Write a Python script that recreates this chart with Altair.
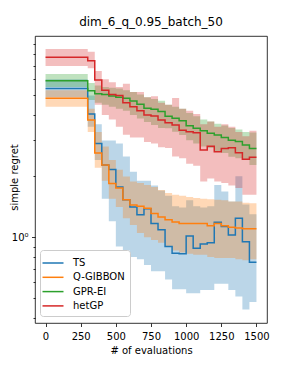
import altair as alt
import pandas as pd

evals = [0, 50, 100, 150, 200, 250, 300, 350, 400, 450, 500, 550, 600, 650, 700, 750,
         800, 850, 900, 950, 1000, 1050, 1100, 1150, 1200, 1250, 1300, 1350, 1400, 1450, 1500]

algos = ["TS", "Q-GIBBON", "GPR-EI", "hetGP"]
colors = ["#1f77b4", "#ff7f0e", "#2ca02c", "#d62728"]

ts_mean = [5.4, 5.4, 5.4, 5.4, 5.4, 5.4, 4.05, 2.9, 2.27, 2.16, 1.77, 1.53, 1.41, 1.29, 1.38, 1.17,
           1.09, 0.90, 0.834, 0.83, 1.015, 0.883, 0.927, 0.94, 1.185, 1.13, 1.026, 1.24, 0.95, 0.753, 0.753]
ts_hi = [6.0, 6.0, 6.0, 6.0, 6.0, 6.0, 5.0, 3.6, 3.0, 3.0, 2.9, 2.5, 2.1, 1.9, 1.9, 1.8,
         1.7, 1.6, 1.42, 1.4, 1.52, 1.42, 1.4, 1.42, 1.81, 1.68, 1.5, 2.0, 1.45, 1.3, 1.3]
ts_lo = [4.9, 4.9, 4.9, 4.9, 4.9, 4.9, 3.5, 2.4, 1.55, 1.2, 0.9, 0.86, 0.8, 0.78, 0.73, 0.68,
         0.68, 0.62, 0.555, 0.555, 0.53, 0.53, 0.55, 0.55, 0.59, 0.59, 0.55, 0.51, 0.44, 0.48, 0.48]

qg_mean = [4.84, 4.84, 4.84, 4.84, 4.84, 4.84, 3.78, 2.6, 2.27, 1.84, 1.75, 1.53, 1.44, 1.42, 1.39, 1.31,
           1.26, 1.22, 1.19, 1.17, 1.17, 1.17, 1.17, 1.14, 1.17, 1.14, 1.12, 1.11, 1.10, 1.10, 1.10]
qg_hi = [5.3, 5.3, 5.3, 5.3, 5.3, 5.3, 4.3, 3.3, 2.8, 2.4, 2.15, 1.99, 1.88, 1.85, 1.81, 1.77,
         1.71, 1.65, 1.62, 1.6, 1.58, 1.56, 1.55, 1.54, 1.53, 1.52, 1.5, 1.5, 1.48, 1.47, 1.47]
qg_lo = [4.4, 4.4, 4.4, 4.4, 4.4, 4.4, 3.3, 2.2, 1.9, 1.55, 1.41, 1.24, 1.15, 1.05, 1.0, 0.97,
         0.94, 0.9, 0.86, 0.84, 0.83, 0.82, 0.82, 0.80, 0.79, 0.79, 0.79, 0.78, 0.77, 0.78, 0.78]

ei_mean = [5.9, 5.9, 5.9, 5.9, 5.9, 5.9, 5.27, 5.1, 5.05, 4.96, 4.9, 4.84, 4.69, 4.52, 4.32, 4.27,
           4.16, 3.95, 3.86, 3.75, 3.54, 3.44, 3.35, 3.25, 3.19, 3.10, 3.01, 2.96, 2.85, 2.74, 2.74]
ei_hi = [6.37, 6.37, 6.37, 6.37, 6.37, 6.37, 5.75, 5.6, 5.5, 5.45, 5.4, 5.3, 5.2, 5.05, 4.9, 4.8,
         4.7, 4.5, 4.4, 4.3, 4.1, 3.95, 3.8, 3.72, 3.62, 3.55, 3.45, 3.4, 3.3, 3.28, 3.28]
ei_lo = [5.5, 5.5, 5.5, 5.5, 5.5, 5.5, 4.75, 4.6, 4.5, 4.4, 4.3, 4.2, 4.0, 3.85, 3.7, 3.57,
         3.45, 3.44, 3.31, 3.19, 3.01, 2.9, 2.8, 2.75, 2.64, 2.6, 2.49, 2.45, 2.4, 2.27, 2.27]

het_mean = [7.7, 7.7, 7.7, 7.7, 7.7, 7.7, 7.4, 5.95, 5.3, 5.05, 5.0, 4.6, 4.4, 4.2, 4.0, 3.96,
            3.78, 3.67, 3.57, 3.37, 3.31, 3.27, 2.69, 2.81, 2.64, 2.74, 2.76, 2.61, 2.42, 2.48, 2.48]
het_hi = [8.46, 8.46, 8.46, 8.46, 8.46, 8.46, 8.2, 6.6, 6.0, 5.8, 5.5, 5.7, 5.2, 5.2, 4.9, 4.95,
          4.6, 4.5, 4.85, 4.3, 4.2, 4.05, 3.6, 3.72, 3.5, 3.6, 3.5, 3.3, 3.15, 3.35, 3.35]
het_lo = [6.97, 6.97, 6.97, 6.97, 6.97, 6.97, 6.8, 4.5, 4.0, 3.8, 3.5, 3.2, 3.1, 3.1, 2.95, 2.9,
          2.78, 2.75, 2.5, 2.45, 2.3, 2.25, 1.88, 1.95, 1.88, 1.85, 1.8, 1.75, 1.62, 1.62, 1.62]

x_ticks = [0, 250, 500, 750, 1000, 1250, 1500]
y_ticks = [0.4, 0.5, 0.6, 0.7, 0.8, 0.9, 1, 2, 3, 4, 5, 6, 7, 8, 9]

series = [
    ("TS", ts_mean, ts_lo, ts_hi),
    ("Q-GIBBON", qg_mean, qg_lo, qg_hi),
    ("GPR-EI", ei_mean, ei_lo, ei_hi),
    ("hetGP", het_mean, het_lo, het_hi),
]
rows = []
for order, (name, m, lo, hi) in enumerate(series):
    for e, a, b, c in zip(evals, m, lo, hi):
        rows.append({"evals": e, "algo": name, "order": order, "mean": a, "lo": b, "hi": c})
df = pd.DataFrame(rows)

FONT = "DejaVu Sans"

x_enc = alt.X(
    "evals:Q",
    scale=alt.Scale(domain=[-75, 1575], nice=False, zero=False),
    axis=alt.Axis(values=x_ticks, title="# of evaluations", tickSize=3.5, labelPadding=4.5,
                  titlePadding=4, format="d"),
)
y_scale = alt.Scale(type="log", domain=[0.378, 9.81], nice=False)
y_axis = alt.Axis(
    values=y_ticks,
    labelExpr="datum.value == 1 ? '10⁰' : ''",
    tickSize={"condition": {"test": "datum.value == 1", "value": 3.5}, "value": 2},
    labelPadding=3.5,
    title="simple regret",
    titleX=-18,
    titleY=141,
    titleAngle=270,
    titleBaseline="alphabetic",
    titleAlign="center",
)

legend = alt.Legend(
    title=None,
    orient="none",
    legendX=5,
    legendY=214,
    symbolType="M-1.5,0H1.5",
    symbolSize=196,
    symbolStrokeWidth=1.5,
    symbolOpacity=1,
    labelFont=FONT,
    labelFontSize=10,
    labelColor="black",
    padding=5,
    rowPadding=1.3,
    labelOffset=12,
    fillColor="rgba(255,255,255,0.8)",
    strokeColor="#cccccc",
    cornerRadius=3,
)

bands = alt.Chart(df).mark_area(interpolate="step-after", opacity=0.3).encode(
    x=x_enc,
    y=alt.Y("lo:Q", scale=y_scale, axis=y_axis),
    y2="hi:Q",
    fill=alt.Fill("algo:N", scale=alt.Scale(domain=algos, range=colors), legend=None),
    order=alt.Order("order:Q"),
)

lines = alt.Chart(df).mark_line(interpolate="step-after", strokeWidth=1.5).encode(
    x=x_enc,
    y=alt.Y("mean:Q", scale=y_scale, axis=y_axis),
    color=alt.Color("algo:N", scale=alt.Scale(domain=algos, range=colors), legend=legend),
    order=alt.Order("order:Q"),
)

chart = (
    alt.layer(bands, lines)
    .resolve_scale(fill="independent", color="independent")
    .properties(
        width=232,
        height=287,
        autosize=alt.AutoSizeParams(type="none"),
        padding={"left": 27, "top": 28, "right": 12, "bottom": 40},
        title=alt.Title("dim_6_q_0.95_batch_50", font=FONT, fontSize=12, fontWeight="normal",
                        color="black", offset=7),
    )
    .configure_view(stroke="black", strokeWidth=0.8)
    .configure_axis(
        domain=False,
        grid=False,
        labelFont=FONT,
        titleFont=FONT,
        labelFontSize=10,
        titleFontSize=10,
        labelColor="black",
        titleColor="black",
        titleFontWeight="normal",
        tickColor="black",
        tickWidth=0.8,
    )
)

chart.save("out.html", embed_options={"renderer": "svg", "actions": False})
